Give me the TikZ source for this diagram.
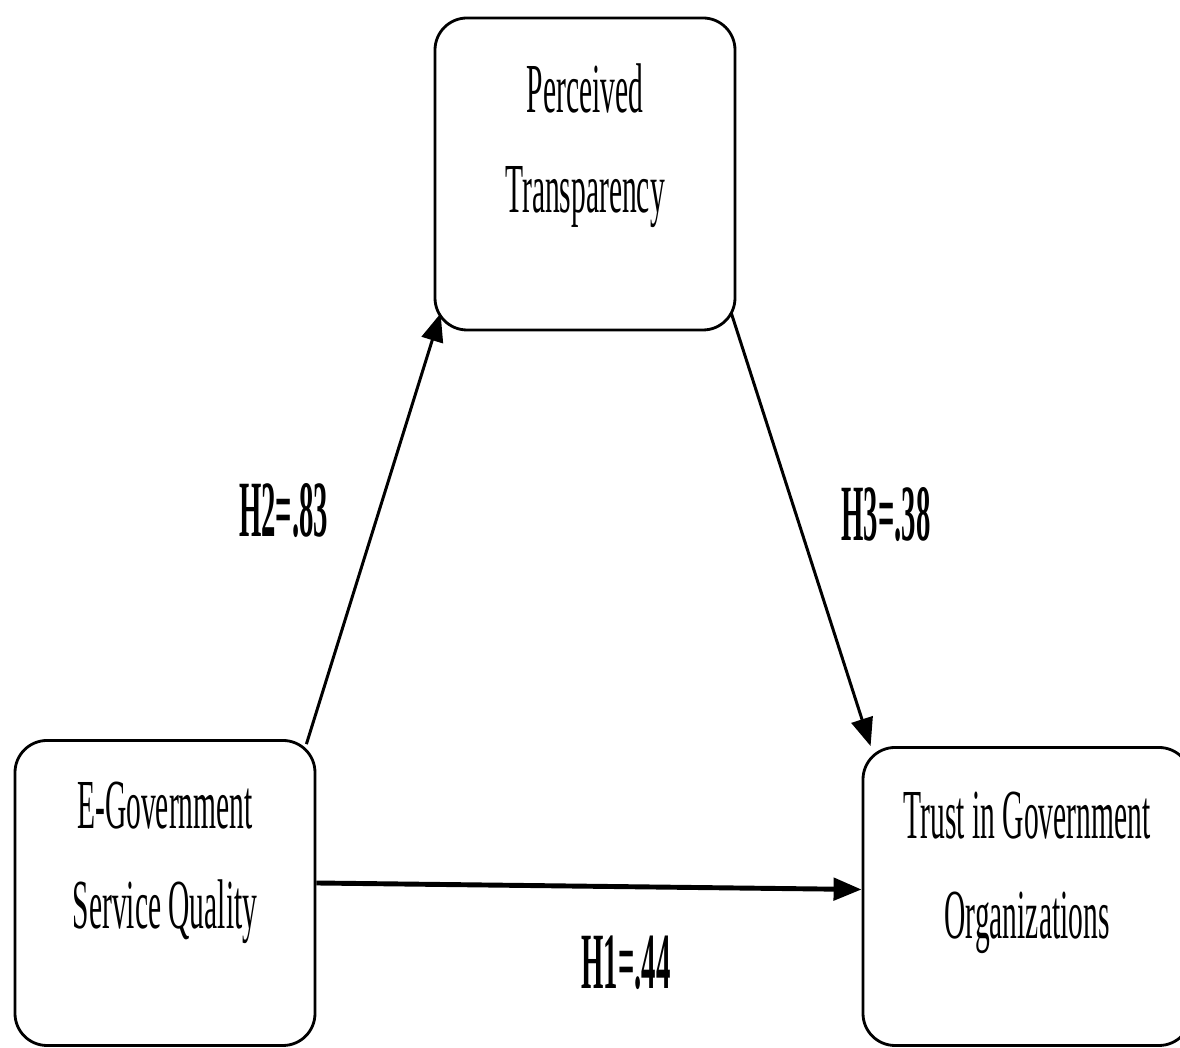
\documentclass[tikz,border=0pt]{standalone}
\usepackage{fontspec}
\setmainfont{Liberation Serif}
\newfontfamily\boxfont[FakeStretch=0.42]{Liberation Serif}
\newfontfamily\hypfont[FakeStretch=0.36]{Liberation Serif}
\usepackage{tikz}
\usetikzlibrary{arrows.meta,positioning,calc}

\begin{document}
\begin{tikzpicture}[
    x=1cm, y=1cm,
    box/.style={draw, rectangle, rounded corners=0.32cm, align=center, line width=0.8pt,
        inner xsep=0pt, inner ysep=0pt,
        font=\boxfont\fontsize{20}{28.5}\selectfont},
    arrow/.style={-{Triangle[length=0.28cm,width=0.22cm]}, line width=0.85pt},
    hyp/.style={font=\hypfont\bfseries\fontsize{22.7}{26}\selectfont},
]
    \useasboundingbox (0,0) rectangle (11.8,10.48);

    % Mediator on top
    \node[box, minimum width=3cm, text height=1.95cm, text depth=1.17cm] (pt) at (5.85,8.74) {Perceived\\Transparency};

    % Predictor and outcome
    \node[box, minimum width=3cm, text height=1.88cm, text depth=1.17cm] (egsq) at (1.65,1.55) {E-Government\\Service Quality};
    \node[box, minimum width=3.28cm, text height=1.91cm, text depth=1.07cm] (tgo) at (10.27,1.515) {Trust in Government\\Organizations};

    % Arrows
    \draw[arrow] ([shift={(-0.1cm,-0.05cm)}]egsq.north east) -- node[hyp, xshift=-0.9cm, yshift=0.18cm] {H2=.83} ([shift={(0.07cm,0.18cm)}]pt.south west);
    \draw[arrow] ([shift={(-0.05cm,0.18cm)}]pt.south east) -- node[hyp, xshift=0.85cm, yshift=0.15cm] {H3=.38} ([shift={(0.09cm,0cm)}]tgo.north west);
    \draw[arrow, line width=1.4pt] ([yshift=0.1cm]egsq.east) -- node[hyp, xshift=0.37cm, yshift=-0.76cm] {H1=.44} ([yshift=0.07cm]tgo.west);

\end{tikzpicture}
\end{document}
